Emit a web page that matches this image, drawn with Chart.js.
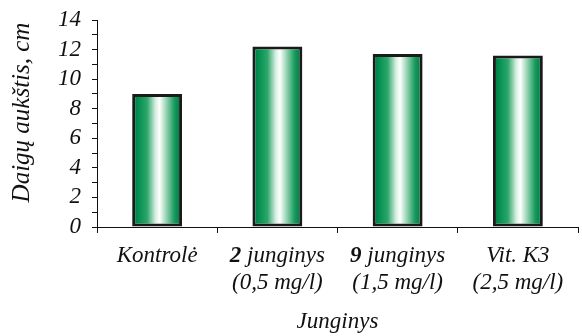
<!DOCTYPE html>
<html>
<head>
<meta charset="utf-8">
<script src="https://cdn.jsdelivr.net/npm/chart.js@4/dist/chart.umd.min.js"></script>
<style>
  html, body { margin: 0; padding: 0; background: #fff; }
  #wrap { width: 582px; height: 336px; }
</style>
</head>
<body>
<div id="wrap"><canvas id="chart" width="582" height="336"></canvas></div>
<script>
// Duomenys
const categories = [
    ['Kontrolė'],
    ['2 junginys', '(0,5 mg/l)'],
    ['9 junginys', '(1,5 mg/l)'],
    ['Vit. K3', '(2,5 mg/l)']
];
const heights = [9.0, 12.2, 11.7, 11.6];
const yTicks = [0, 2, 4, 6, 8, 10, 12, 14];
const yTitle = 'Daigų aukštis, cm';

const serif = "'Liberation Serif', 'Times New Roman', serif";
const labelSize = 23;

// Gradientas stulpeliams (tamsiai žalia -> balta -> žalia)
const barGradient = {
    id: 'barGradient',
    beforeDatasetsDraw(chart) {
        const ctx = chart.ctx;
        chart.getDatasetMeta(0).data.forEach(bar => {
            const left = bar.x - bar.width / 2;
            const g = ctx.createLinearGradient(left, 0, left + bar.width, 0);
            g.addColorStop(0, '#00703c');
            g.addColorStop(0.12, '#00904f');
            g.addColorStop(0.3, '#2ea66b');
            g.addColorStop(0.47, '#d8f0e2');
            g.addColorStop(0.55, '#ffffff');
            g.addColorStop(0.66, '#a8dbbf');
            g.addColorStop(0.85, '#159a5c');
            g.addColorStop(1, '#00703c');
            bar.options.backgroundColor = g;
        });
    }
};

// X ašies etiketės (skaičius paryškintas) ir Y ašies pavadinimas
const axisText = {
    id: 'axisText',
    afterDraw(chart) {
        const ctx = chart.ctx;
        const xs = chart.scales.x;
        const ys = chart.scales.y;
        const reg = 'italic ' + labelSize + 'px ' + serif;
        const bold = 'italic bold ' + labelSize + 'px ' + serif;
        ctx.save();
        ctx.fillStyle = '#111';
        ctx.textBaseline = 'middle';
        categories.forEach((lines, i) => {
            const cx = xs.getPixelForValue(i);
            lines.forEach((line, j) => {
                const y = xs.top + 29 + j * 27;
                const m = line.match(/^(\d+)( .*)$/);
                if (m && j === 0) {
                    ctx.font = bold;
                    const w1 = ctx.measureText(m[1]).width;
                    ctx.font = reg;
                    const w2 = ctx.measureText(m[2]).width;
                    const x = cx - (w1 + w2) / 2;
                    ctx.textAlign = 'left';
                    ctx.font = bold;
                    ctx.fillText(m[1], x, y);
                    ctx.font = reg;
                    ctx.fillText(m[2], x + w1, y);
                } else {
                    ctx.textAlign = 'center';
                    ctx.font = reg;
                    ctx.fillText(line, cx, y);
                }
            });
        });
        // Y pavadinimas, šiek tiek aukščiau už ašies vidurį
        ctx.translate(22, ys.getPixelForValue(7) - 11);
        ctx.rotate(-Math.PI / 2);
        ctx.textAlign = 'center';
        ctx.font = 'italic 25px ' + serif;
        ctx.fillText(yTitle, 0, 0);
        ctx.restore();
    }
};

new Chart(document.getElementById('chart'), {
    type: 'bar',
    data: {
        labels: categories,
        datasets: [{
            data: heights,
            // funkcija, kad kiekvienas stulpelis turėtų savo options objektą
            backgroundColor: () => '#00904f',
            borderColor: '#1a1a1a',
            borderWidth: 3,
            borderSkipped: false,
            categoryPercentage: 1,
            barPercentage: 0.415
        }]
    },
    options: {
        responsive: false,
        animation: false,
        layout: { padding: { top: 20, right: 4, left: 0, bottom: 0 } },
        plugins: {
            legend: { display: false },
            tooltip: { enabled: false }
        },
        scales: {
            x: {
                grid: {
                    display: true,
                    offset: true,
                    drawOnChartArea: false,
                    drawTicks: true,
                    tickLength: 6,
                    color: '#111'
                },
                border: { display: true, color: '#111', width: 1 },
                ticks: { color: 'rgba(0,0,0,0)', font: { family: serif, size: labelSize, style: 'italic' } },
                title: {
                    display: true,
                    text: 'Junginys',
                    color: '#111',
                    padding: { top: 5, bottom: 0 },
                    font: { family: serif, size: labelSize, style: 'italic' }
                },
                afterFit(scale) {
                    scale.height = 109;
                    scale.paddingLeft = 0;
                    scale.paddingRight = 0;
                }
            },
            y: {
                min: 0,
                max: 14,
                grid: {
                    display: true,
                    drawOnChartArea: false,
                    drawTicks: true,
                    tickLength: 5,
                    color: '#111'
                },
                border: { display: true, color: '#111', width: 1 },
                ticks: {
                    stepSize: 1,
                    autoSkip: false,
                    padding: 11,
                    color: '#111',
                    font: { family: serif, size: 23, style: 'italic' },
                    callback: v => yTicks.includes(v) ? v : ''
                },
                afterFit(scale) {
                    scale.width = 97;
                    scale.paddingTop = 0;
                    scale.paddingBottom = 0;
                }
            }
        }
    },
    plugins: [barGradient, axisText]
});
</script>
</body>
</html>
